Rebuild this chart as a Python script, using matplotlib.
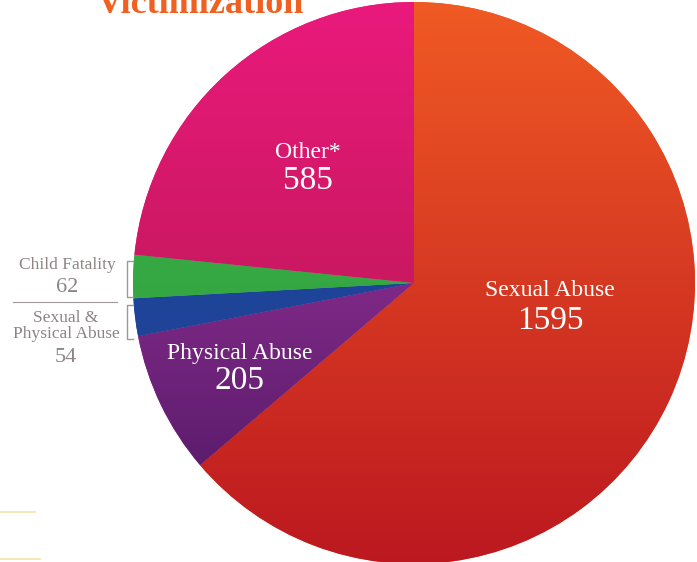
import numpy as np
import matplotlib
matplotlib.use("Agg")
import matplotlib.pyplot as plt
from matplotlib.colors import LinearSegmentedColormap

categories = ["Sexual Abuse", "Physical Abuse", "Sexual & Physical Abuse", "Child Fatality", "Other*"]
values = [1595, 205, 54, 62, 585]
top_colors = ["#f05a24", "#b43cac", "#2450a8", "#40b44c", "#ea1a7c"]
bot_colors = ["#bc1820", "#4a1660", "#1a3a8c", "#2a9a3a", "#aa1646"]

W, H = 697, 562
fig = plt.figure(figsize=(W / 100, H / 100), dpi=100)
ax = fig.add_axes([0, 0, 1, 1])

cx, cy, R = 414, H - 283, 281
wedges, _ = ax.pie(values, startangle=90, counterclock=False, radius=R,
                   center=(cx, cy), colors=top_colors, frame=True,
                   wedgeprops=dict(linewidth=0))
ax.set_xlim(0, W)
ax.set_ylim(0, H)
ax.set_aspect("equal")
ax.axis("off")

grad = np.linspace(1, 0, 256).reshape(-1, 1)
for w, c1, c2 in zip(wedges, top_colors, bot_colors):
    cmap = LinearSegmentedColormap.from_list("g", [c2, c1])
    im = ax.imshow(grad, cmap=cmap, extent=(cx - R, cx + R, cy - R, cy + R),
                   aspect="auto", origin="upper", zorder=2)
    im.set_clip_path(w)

serif = ["Liberation Serif", "DejaVu Serif"]

def px(x, y):
    return x, H - y

# inside labels
ax.text(*px(550, 290), "Sexual Abuse", color="white", fontsize=17, family=serif, ha="center", va="center", zorder=5)
ax.text(*px(550, 321), f"{values[0]}", color="white", fontsize=24, family=serif, ha="center", va="center", zorder=5)
ax.text(*px(308, 152), "Other*", color="white", fontsize=17, family=serif, ha="center", va="center", zorder=5)
ax.text(*px(308, 181), f"{values[4]}", color="white", fontsize=24, family=serif, ha="center", va="center", zorder=5)
ax.text(*px(240, 353), "Physical Abuse", color="white", fontsize=17, family=serif, ha="center", va="center", zorder=5)
ax.text(*px(240, 381), f"{values[1]}", color="white", fontsize=24, family=serif, ha="center", va="center", zorder=5)

# outside labels
gray = "#8c8484"
ax.text(*px(67, 265), "Child Fatality", color=gray, fontsize=12.5, family=serif, ha="center", va="center")
ax.text(*px(67, 287), f"{values[3]}", color=gray, fontsize=16, family=serif, ha="center", va="center")
ax.text(*px(66, 318), "Sexual &", color=gray, fontsize=12.5, family=serif, ha="center", va="center")
ax.text(*px(66, 334), "Physical Abuse", color=gray, fontsize=12.5, family=serif, ha="center", va="center")
ax.text(*px(66, 358), f"{values[2]}", color=gray, fontsize=16, family=serif, ha="center", va="center")

ax.plot([13, 117], [H - 302, H - 302], color="#a09898", lw=0.8)
for y0, y1 in [(261, 297), (305, 339)]:
    ax.plot([133, 127, 127, 133], [H - y0, H - y0, H - y1, H - y1], color="#a09898", lw=1.0)

# title (cut off at top, as in the reference)
ax.text(*px(200, 13), "Victimization", color="#f06020", fontsize=26, family=serif,
        fontweight="bold", ha="center", va="baseline")

# faint decorative lines
ax.plot([0, 35], [H - 512, H - 512], color="#f3e4a8", lw=1.2)
ax.plot([0, 40], [H - 559, H - 559], color="#f3e4a8", lw=1.2)

fig.savefig("out.png", dpi=100)
